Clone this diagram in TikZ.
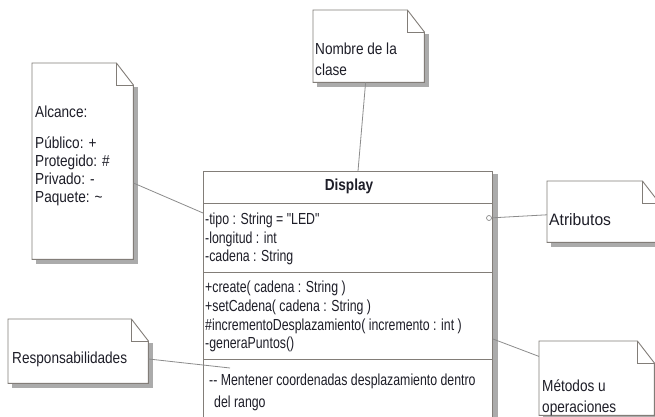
\documentclass[tikz,border=0pt]{standalone}
\usepackage{fontspec}
\setmainfont[FakeStretch=0.85]{Liberation Sans}
\newfontfamily\classfont[FakeStretch=0.77]{Liberation Sans}
\newfontfamily\widefont[FakeStretch=0.95]{Liberation Sans}
\usetikzlibrary{calc}
\definecolor{txtc}{RGB}{30,30,40}
\definecolor{bordc}{RGB}{130,125,120}
\definecolor{connc}{RGB}{140,140,140}
\colorlet{shadc}{black!33}
\tikzset{
  notearea/.style={draw=none, inner sep=0, anchor=north west},
  lbl/.style={inner sep=0, anchor=north west, align=left, text=txtc},
  connector/.style={draw=connc, line width=0.8pt},
  boxline/.style={draw=bordc, line width=0.9pt},
  shadowfill/.style={fill=shadc, draw=none},
}
% note: shadow, white body and folded corner
\newcommand\drawnote[1]{%
  \path[shadowfill] ($(#1.north east)+(0,24)$) rectangle ($(#1.south east)+(4.5,4.5)$);
  \path[shadowfill] ($(#1.south west)+(4,0)$) rectangle ($(#1.south east)+(4.5,4.5)$);
  \filldraw[fill=white, boxline] (#1.north west) -- ($(#1.north east)+(-17,0)$) -- ($(#1.north east)+(0,22)$) -- (#1.south east) -- (#1.south west) -- cycle;
  \draw[boxline] ($(#1.north east)+(-17,0)$) |- ($(#1.north east)+(0,22)$);
}
\begin{document}
\begin{tikzpicture}[x=1pt,y=-1pt]
\useasboundingbox (0,0) rectangle (655,417);
\fill[white] (0,0) rectangle (655,417);
\clip (0,0) rectangle (655,417);

% note areas
\node[notearea, minimum width=101, minimum height=196] (alc) at (32,63) {};
\node[notearea, minimum width=111, minimum height=72] (nom) at (313,10) {};
\node[notearea, minimum width=112, minimum height=61] (atr) at (547,181) {};
\node[notearea, minimum width=140, minimum height=64] (res) at (8,319) {};
\node[notearea, minimum width=115, minimum height=74] (met) at (539,341) {};

% class box with shadow
\path[shadowfill] (207,174) rectangle (497.5,425);
\node[draw=bordc, fill=white, line width=0.9pt, inner sep=0, anchor=north west,
      minimum width=289, minimum height=246] (cls) at (203,171) {};
\draw[boxline] ($(cls.north west)+(0,32)$) -- ($(cls.north east)+(0,32)$);
\draw[boxline] ($(cls.north west)+(0,101)$) -- ($(cls.north east)+(0,101)$);
\draw[boxline] ($(cls.north west)+(0,188)$) -- ($(cls.north east)+(0,188)$);

\node[text=txtc, font=\fontsize{16}{18}\selectfont\bfseries] (title) at (349,186) {Display};
\node[lbl, font=\classfont\fontsize{16}{18.5}\selectfont] (attrs) at (205,213)
  {-tipo : String = "LED"\\-longitud : int\\-cadena : String};
\node[lbl, font=\classfont\fontsize{16}{18.7}\selectfont] (meths) at (205,281)
  {+create( cadena : String )\\+setCadena( cadena : String )\\\#incrementoDesplazamiento( incremento : int )\\-generaPuntos()};
\node[lbl, font=\classfont\fontsize{16}{21.7}\selectfont] (resp) at (209,374)
  {-{}- Mentener coordenadas desplazamiento dentro\\\hspace*{5pt}del rango};

% anchor points on the class
\coordinate (cA) at (203,213);
\coordinate (cN) at (358,171);
\coordinate (cR) at (230,368);
\coordinate (cM) at (493,339);
\node[circle, draw=connc, fill=white, inner sep=0, minimum size=5, line width=0.7pt] (circ) at (489,218) {};

% notes
\drawnote{alc}
\drawnote{nom}
\drawnote{atr}
\drawnote{res}
\drawnote{met}

% connectors
\draw[connector] (alc) -- (cA);
\draw[connector] (nom) -- (cN);
\draw[connector] (atr) -- (circ);
\draw[connector] (res) -- (cR);
\draw[connector] (met) -- (cM);

% note texts
\node[lbl, font=\fontsize{16}{18}\selectfont] (alcT) at (35,106)
  {Alcance:\\[13pt]Público: +\\Protegido: \#\\Privado: -\\Paquete: \textasciitilde};
\node[lbl, font=\fontsize{16}{21}\selectfont] (nomT) at (315,43) {Nombre de la\\clase};
\node[lbl, font=\widefont\fontsize{16.5}{18}\selectfont] (atrT) at (549,213.5) {Atributos};
\node[lbl, font=\fontsize{16}{18}\selectfont] (resT) at (12,352) {Responsabilidades};
\node[lbl, font=\fontsize{16}{21}\selectfont] (metT) at (542,380) {Métodos u\\operaciones};
\end{tikzpicture}
\end{document}
